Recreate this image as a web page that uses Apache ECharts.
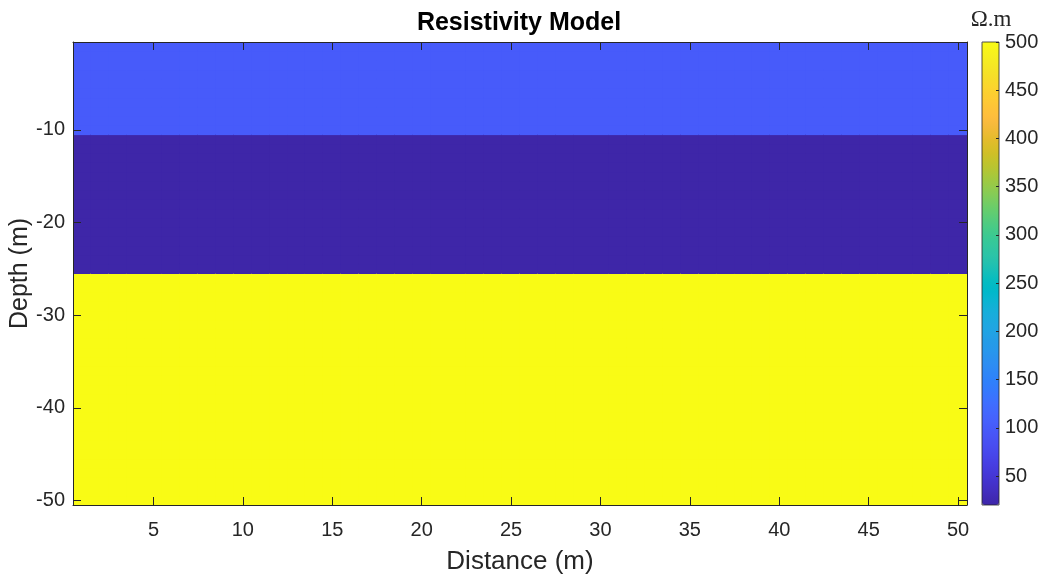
<!DOCTYPE html>
<html><head><meta charset="utf-8">
<script src="https://cdn.jsdelivr.net/npm/echarts@6/dist/echarts.min.js"></script>
<style>html,body{margin:0;padding:0;background:#fff}#chart{width:1046px;height:577px}</style>
</head><body><div id="chart"></div>
<script>
// ---- data ----
const distances = [1,2,3,4,5,6,7,8,9,10,11,12,13,14,15,16,17,18,19,20,21,22,23,24,25,26,27,28,29,30,31,32,33,34,35,36,37,38,39,40,41,42,43,44,45,46,47,48,49,50];
const depths = [-50,-49,-48,-47,-46,-45,-44,-43,-42,-41,-40,-39,-38,-37,-36,-35,-34,-33,-32,-31,-30,-29,-28,-27,-26,-25,-24,-23,-22,-21,-20,-19,-18,-17,-16,-15,-14,-13,-12,-11,-10,-9,-8,-7,-6,-5,-4,-3,-2,-1];
const xTickLabels = [5,10,15,20,25,30,35,40,45,50];
const yTickLabels = [-10,-20,-30,-40,-50];
const cbTickLabels = [50,100,150,200,250,300,350,400,450,500];
const layerBottom = [10, 25, 50];   // depth (m) of each layer's base
const layerRho = [100, 20, 500];    // resistivity of each layer (Ohm.m)
const rhoMin = 20, rhoMax = 500;

// ---- style ----
const parula = [
[0.2422,0.1504,0.6603],[0.2504,0.1650,0.7076],[0.2578,0.1818,0.7511],[0.2647,0.1978,0.7952],
[0.2706,0.2147,0.8364],[0.2751,0.2342,0.8710],[0.2783,0.2559,0.8991],[0.2803,0.2782,0.9221],
[0.2813,0.3006,0.9414],[0.2810,0.3228,0.9579],[0.2795,0.3447,0.9717],[0.2760,0.3667,0.9829],
[0.2699,0.3892,0.9906],[0.2602,0.4123,0.9952],[0.2440,0.4358,0.9988],[0.2206,0.4603,0.9973],
[0.1963,0.4847,0.9892],[0.1834,0.5074,0.9798],[0.1786,0.5289,0.9682],[0.1764,0.5499,0.9520],
[0.1687,0.5703,0.9359],[0.1540,0.5902,0.9218],[0.1460,0.6091,0.9079],[0.1380,0.6276,0.8973],
[0.1248,0.6459,0.8883],[0.1113,0.6635,0.8763],[0.0952,0.6798,0.8598],[0.0689,0.6948,0.8394],
[0.0297,0.7082,0.8163],[0.0036,0.7203,0.7917],[0.0067,0.7312,0.7660],[0.0433,0.7411,0.7394],
[0.0964,0.7500,0.7120],[0.1408,0.7584,0.6842],[0.1717,0.7670,0.6554],[0.1938,0.7758,0.6251],
[0.2161,0.7843,0.5923],[0.2470,0.7918,0.5567],[0.2906,0.7973,0.5188],[0.3406,0.8008,0.4789],
[0.3909,0.8029,0.4354],[0.4456,0.8024,0.3909],[0.5044,0.7993,0.3480],[0.5616,0.7942,0.3045],
[0.6174,0.7876,0.2612],[0.6720,0.7793,0.2227],[0.7242,0.7698,0.1910],[0.7738,0.7598,0.1646],
[0.8203,0.7498,0.1535],[0.8634,0.7406,0.1596],[0.9035,0.7330,0.1774],[0.9393,0.7288,0.2100],
[0.9728,0.7298,0.2394],[0.9956,0.7434,0.2371],[0.9970,0.7659,0.2199],[0.9952,0.7893,0.2028],
[0.9892,0.8136,0.1885],[0.9786,0.8386,0.1766],[0.9676,0.8639,0.1643],[0.9610,0.8890,0.1537],
[0.9597,0.9135,0.1423],[0.9628,0.9373,0.1265],[0.9691,0.9606,0.1064],[0.9769,0.9839,0.0805]
].map(c => 'rgb(' + c.map(v => Math.round(v*255)).join(',') + ')');

const axisColor = '#262626';
const font = '"Liberation Sans", Arial, Helvetica, sans-serif';

// build grid cells from the layer model
const cells = [];
distances.forEach((x, xi) => {
  depths.forEach((y, yi) => {
    const d = -y;
    let k = 0;
    while (k < layerBottom.length - 1 && d > layerBottom[k]) k++;
    cells.push([xi, yi, layerRho[k]]);
  });
});

const xInt = (i, v) => xTickLabels.includes(+v);
const yInt = (i, v) => yTickLabels.includes(+v);

const option = {
  animation: false,
  backgroundColor: '#fff',
  grid: [
    {left: 73, top: 42, width: 894, height: 463, containLabel: false, outerBoundsMode: 'none'},
    {left: 982, top: 42, width: 17, height: 463, containLabel: false, outerBoundsMode: 'none',
     show: true, z: 10, backgroundColor: 'transparent', borderColor: axisColor, borderWidth: 0.8}
  ],
  xAxis: [
    {type: 'category', gridIndex: 0, data: distances.map(String), position: 'bottom', boundaryGap: true, z: 10,
     axisLine: {show: true, onZero: false, lineStyle: {color: axisColor, width: 1}},
     axisTick: {show: true, inside: true, length: 8, alignWithLabel: true, interval: xInt, lineStyle: {color: axisColor}},
     axisLabel: {interval: xInt, color: axisColor, fontSize: 20, fontFamily: font, margin: 15},
     splitLine: {show: false},
     name: 'Distance (m)', nameLocation: 'middle', nameGap: 44, nameMoveOverlap: false,
     nameTextStyle: {color: axisColor, fontSize: 26, fontFamily: font}},
    {type: 'category', gridIndex: 0, data: distances.map(String), position: 'top', boundaryGap: true, z: 10,
     axisLine: {show: true, onZero: false, lineStyle: {color: axisColor, width: 1}},
     axisTick: {show: true, inside: true, length: 8, alignWithLabel: true, interval: xInt, lineStyle: {color: axisColor}},
     axisLabel: {show: false}, splitLine: {show: false}},
    {type: 'value', gridIndex: 1, show: false, min: 0, max: 1}
  ],
  yAxis: [
    {type: 'category', gridIndex: 0, data: depths.map(String), position: 'left', boundaryGap: true, z: 10,
     axisLine: {show: true, onZero: false, lineStyle: {color: axisColor, width: 1}},
     axisTick: {show: true, inside: true, length: 8, alignWithLabel: true, interval: yInt, lineStyle: {color: axisColor}},
     axisLabel: {interval: yInt, color: axisColor, fontSize: 20, fontFamily: font, margin: 8},
     splitLine: {show: false},
     name: 'Depth (m)', nameLocation: 'middle', nameGap: 40, nameRotate: 90, nameMoveOverlap: false,
     nameTextStyle: {color: axisColor, fontSize: 25, fontFamily: font}},
    {type: 'category', gridIndex: 0, data: depths.map(String), position: 'right', boundaryGap: true, z: 10,
     axisLine: {show: true, onZero: false, lineStyle: {color: axisColor, width: 1}},
     axisTick: {show: true, inside: true, length: 8, alignWithLabel: true, interval: yInt, lineStyle: {color: axisColor}},
     axisLabel: {show: false}, splitLine: {show: false}},
    {type: 'value', gridIndex: 1, min: rhoMin, max: rhoMax, position: 'right', z: 11,
     axisLine: {show: false, onZero: false},
     axisTick: {show: true, inside: true, length: 3, customValues: cbTickLabels, lineStyle: {color: axisColor}},
     axisLabel: {customValues: cbTickLabels, color: axisColor, fontSize: 20, fontFamily: font, margin: 6},
     splitLine: {show: false}}
  ],
  visualMap: {
    type: 'continuous', min: rhoMin, max: rhoMax, seriesIndex: 0, dimension: 2,
    left: 982, top: 42, itemWidth: 17, itemHeight: 463, padding: 0,
    calculable: false, hoverLink: false, realtime: false, text: null,
    inRange: {color: parula}
  },
  graphic: [
    {type: 'text', x: 519, y: 23, z: 20,
     style: {text: 'Resistivity Model', fill: '#000', font: 'bold 25px ' + font, textAlign: 'center', textVerticalAlign: 'middle'}},
    {type: 'text', x: 991, y: 20, z: 20,
     style: {text: 'Ω.m', fill: axisColor, font: '23px "Liberation Serif", "Times New Roman", serif', textAlign: 'center', textVerticalAlign: 'middle'}}
  ],
  series: [{
    type: 'custom', xAxisIndex: 0, yAxisIndex: 0, data: cells,
    encode: {x: 0, y: 1},
    renderItem: function (params, api) {
      const c = api.coord([api.value(0), api.value(1)]);
      const s = api.size([1, 1]);
      return {
        type: 'rect',
        shape: {x: c[0] - s[0] / 2 - 0.5, y: c[1] - s[1] / 2 - 0.5, width: s[0] + 1, height: s[1] + 1},
        style: {fill: api.visual('color')},
        silent: true
      };
    },
    clip: true
  }]
};

const chart = echarts.init(document.getElementById('chart'), null, {renderer: 'canvas'});
chart.setOption(option);
</script>
</body></html>
